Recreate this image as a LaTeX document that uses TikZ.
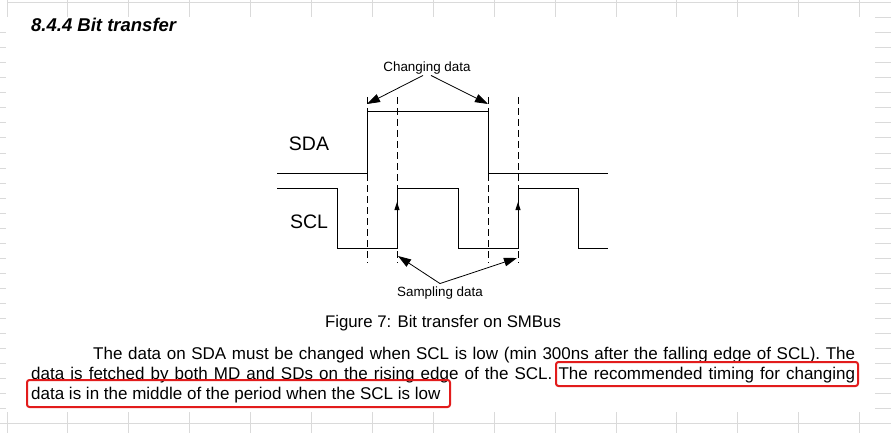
\documentclass[tikz,border=0pt]{standalone}
\usepackage{fontspec}
\setmainfont{Liberation Sans}
\usetikzlibrary{arrows.meta}
\definecolor{gridgray}{RGB}{218,218,218}
\definecolor{markred}{RGB}{226,28,28}
\tikzset{
    wave/.style={line width=1pt},
    guide/.style={line width=0.9pt, dash pattern=on 7pt off 4pt},
    pointer/.style={line width=0.8pt, -{Triangle[length=13pt,width=8.5pt]}},
    edgetip/.style={line width=1pt, -{Triangle[length=8pt,width=5pt]}},
    cell/.style={gridgray, line width=1pt},
    redframe/.style={markred, line width=2pt, rounded corners=2.5pt},
}
\begin{document}
\begin{tikzpicture}[x=1pt, y=-1pt]
    \useasboundingbox[fill=white] (0,0) rectangle (891,433);
    \draw[cell] (7,3) -- (891,3);
    \draw[cell] (0,423) -- (891,423);
    \foreach \k in {0,...,14} {
        \draw[cell] ({7+60.9*\k},0) -- ({7+60.9*\k},17);
        \draw[cell] ({7+60.9*\k},412) -- ({7+60.9*\k},433);
    }
    \foreach \y in {33,48,...,408} \draw[cell] (0,\y) -- (6,\y);
    \foreach \y in {18,33,...,408} \draw[cell] (875,\y) -- (891,\y);

    \node[anchor=west, inner sep=0pt, font=\fontsize{18.5}{22}\selectfont\bfseries\itshape] (title) at (31,25) {8.4.4 Bit transfer};

    \draw[wave] (277,173) -- (367,173) -- (367,112) -- (488,112) -- (488,173) -- (608,173);
    \draw[wave] (277,188) -- (337,188) -- (337,248) -- (397,248) -- (397,188) -- (458,188)
        -- (458,248) -- (518,248) -- (518,188) -- (578,188) -- (578,248) -- (608,248);
    \draw[edgetip] (397,248) -- (397,202);
    \draw[edgetip] (518,248) -- (518,202);
    \foreach \x in {367,397,488,518} \draw[guide] (\x,97) -- (\x,263);

    \node[font=\fontsize{19.5}{22}\selectfont] (sda) at (309,144) {SDA};
    \node[font=\fontsize{19.5}{22}\selectfont] (scl) at (309,222) {SCL};

    \node[inner sep=1pt, font=\fontsize{13.4}{16}\selectfont] (chg) at (427,68) {Changing data};
    \coordinate (chgL) at (367,104);
    \coordinate (chgR) at (488,104);
    \draw[pointer] ([xshift=-4pt]chg.south) -- (chgL);
    \draw[pointer] ([xshift=4pt]chg.south) -- (chgR);

    \node[inner sep=3pt, font=\fontsize{13.4}{16}\selectfont] (smp) at (440,293) {Sampling data};
    \coordinate (smpL) at (398,256);
    \coordinate (smpR) at (517,258);
    \draw[pointer] (smp.north) -- (smpL);
    \draw[pointer] (smp.north) -- (smpR);

    \node[font=\fontsize{16.8}{20}\selectfont] (caption) at (443,323) {Figure 7: Bit transfer on SMBus};

    \node[anchor=north west, inner sep=0pt, text width=824pt, align=justify,
        font=\fontsize{17}{20}\selectfont] (para) at (31,346.5)
        {\hspace*{62pt}The data on SDA must be changed when SCL is low (min 300ns after the falling edge of SCL). The\linebreak
        data is fetched by both MD and SDs on the rising edge of the SCL. The recommended timing for changing\linebreak
        data is in the middle of the period when the SCL is low\par};
    \draw[redframe] (556,362) rectangle (858,386);
    \draw[redframe] (27,380) rectangle (450,407);
\end{tikzpicture}
\end{document}
